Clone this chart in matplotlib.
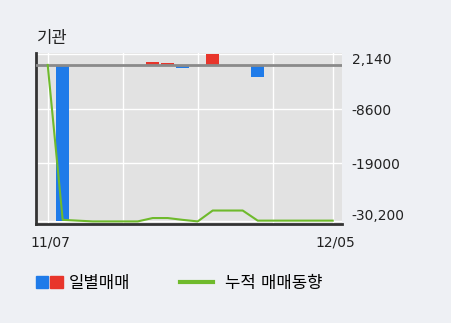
import matplotlib
matplotlib.use('Agg')
import matplotlib.pyplot as plt
import matplotlib.transforms as mtransforms
from matplotlib.patches import Patch
from matplotlib.lines import Line2D
from matplotlib.legend_handler import HandlerTuple

plt.rcParams['font.family'] = ['DejaVu Sans', 'Noto Sans CJK KR']
plt.rcParams['axes.unicode_minus'] = False

# daily net trades (기관), 20 trading days 11/07 .. 12/05
days = list(range(20))
daily = [0, -30200, 0, 0, 0, 0, 0, 650, 300, -500, 0, 2140, 0, 0, -2250, 0, 0, 0, 0, 0]
# cumulative trend line
cumul = [0, -29900, -30050, -30200, -30200, -30200, -30200, -29550, -29550, -29900,
         -30200, -28100, -28100, -28100, -30050, -30050, -30050, -30050, -30050, -30050]

ytick_vals = [2140, -8600, -19000, -30200]
ytick_labels = ['2,140', '-8600', '-19000', '-30,200']
xtick_pos = [0, 5, 10, 15, 19]
xtick_labels = ['11/07', '', '', '', '12/05']

blue = '#1f7be9'
red = '#e8352b'
green = '#6fba2c'
bg = '#eef0f4'

fig = plt.figure(figsize=(4.51, 3.23), dpi=100, facecolor=bg)
ax = fig.add_axes([36 / 451, 1 - 224 / 323, 306 / 451, 171.5 / 323])
ax.set_facecolor('#e2e2e2')

bar_colors = [red if v > 0 else blue for v in daily]
ax.bar(days, daily, width=0.87, color=bar_colors, zorder=2)
ax.axhline(0, color='#8a8a8a', lw=2, zorder=3)
ax.plot(days, cumul, color=green, lw=1.5, zorder=4)

ax.set_xlim(-0.78, 19.62)
ax.set_ylim(-30700, 2400)

ax.set_xticks(xtick_pos)
ax.set_xticklabels(xtick_labels, fontsize=10)
ax.set_yticks(ytick_vals)
ax.set_yticklabels(ytick_labels, fontsize=10)
ax.yaxis.tick_right()
ax.tick_params(axis='y', length=0, pad=7, colors='#222222')
ax.tick_params(axis='x', length=0, pad=8, colors='#222222')
ax.grid(True, color='white', lw=1, zorder=1)
ax.set_axisbelow(True)

# nudge edge labels inward like the original
ylabs = ax.get_yticklabels()
ylabs[0].set_transform(ylabs[0].get_transform() +
                       mtransforms.ScaledTranslation(0, -5 / 100, fig.dpi_scale_trans))
ylabs[-1].set_transform(ylabs[-1].get_transform() +
                        mtransforms.ScaledTranslation(0, 7 / 100, fig.dpi_scale_trans))
for lab in ax.get_xticklabels():
    lab.set_transform(lab.get_transform() +
                      mtransforms.ScaledTranslation(3 / 100, 0, fig.dpi_scale_trans))

for s in ['top', 'right']:
    ax.spines[s].set_visible(False)
for s in ['left', 'bottom']:
    ax.spines[s].set_color('#333333')
    ax.spines[s].set_linewidth(2)

fig.text(37 / 451, 1 - 38 / 323, '기관', fontsize=12, va='center', ha='left', color='#222222')

# legends
h1 = (Patch(color=blue), Patch(color=red))
fig.legend([h1], ['일별매매'], handler_map={tuple: HandlerTuple(ndivide=None, pad=0.12)},
           loc='center left', bbox_to_anchor=(36 / 451, 1 - 283 / 323), frameon=False,
           fontsize=12, handlelength=1.6, handleheight=0.7, handletextpad=0.4,
           borderpad=0, borderaxespad=0)
fig.legend([Line2D([0], [0], color=green, lw=3)], ['누적 매매동향'],
           loc='center left', bbox_to_anchor=(180 / 451, 1 - 283 / 323), frameon=False,
           fontsize=12, handlelength=1.95, handletextpad=0.75,
           borderpad=0, borderaxespad=0)

fig.savefig('out.png', dpi=100, facecolor=bg)
